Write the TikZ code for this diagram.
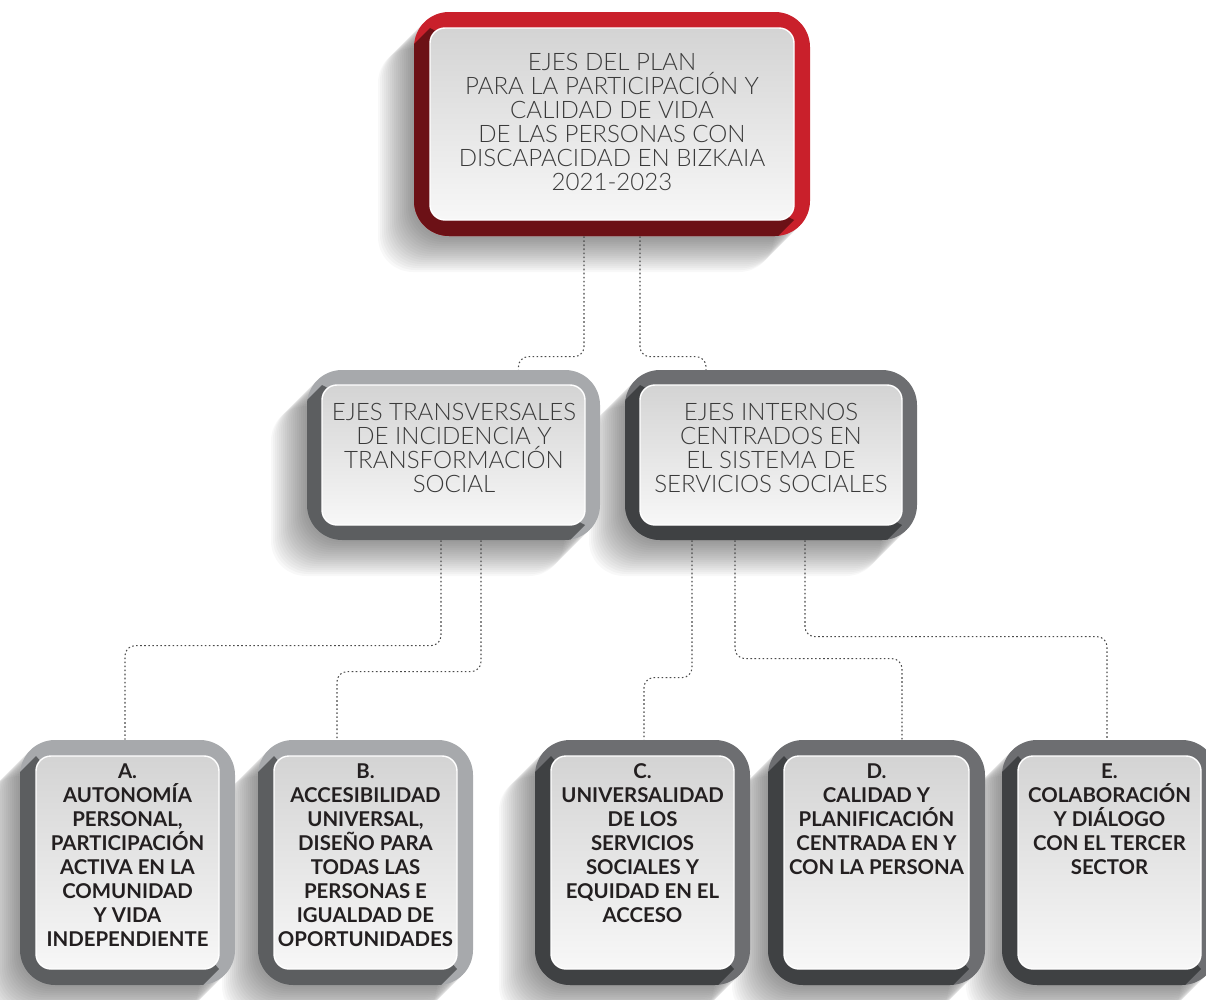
\documentclass[tikz,border=0pt]{standalone}
\usepackage{fontspec}
\setmainfont{Lato}
\newfontfamily\latolight{Lato Light}
\usetikzlibrary{calc,fit}

\definecolor{vermelho}{HTML}{C9202B}
\definecolor{vermelhoesc}{HTML}{6C1116}
\definecolor{cinzaclaro}{HTML}{A7A9AC}
\definecolor{cinzaclaroesc}{HTML}{5C5E60}
\definecolor{cinzaesc}{HTML}{6D6E71}
\definecolor{cinzaescesc}{HTML}{3F4143}
\definecolor{texto}{HTML}{3A3A3A}
\definecolor{textoesc}{HTML}{231F20}
\definecolor{linha}{HTML}{4A4A4A}

% caixa: nome, x1, y1, x2, y2, borda, cor, cor escura
\newcommand{\caixa}[8]{%
  \foreach \k in {1,...,18}
    \fill[black, opacity=0.028, rounded corners=7mm] ({#2-2*\k},{#3+2*\k}) rectangle ({#4-2*\k},{#5+2*\k});
  \fill[#7, rounded corners=7mm] (#2,#3) rectangle (#4,#5);
  \begin{scope}
    \clip[rounded corners=7mm] (#2,#3) rectangle (#4,#5);
    \fill[#8] ({#2+#6},{#3+#6}) -- ++(-300,300) -- ({#4-#6-300},{#5-#6+300}) -- ({#4-#6},{#5-#6}) -- cycle;
  \end{scope}
  \shadedraw[rounded corners=3mm, top color=black!17, bottom color=black!3, draw=white, line width=0.8pt] ({#2+#6},{#3+#6}) rectangle ({#4-#6},{#5-#6});
  \node[fit={(#2,#3) (#4,#5)}, inner sep=0pt] (#1) {};
}

\begin{document}
\begin{tikzpicture}[x=0.2mm, y=-0.2mm,
    link/.style={draw=linha, line width=0.6pt, dash pattern=on 0.9pt off 1.4pt, rounded corners=2mm},
    titulo/.style={align=center, text=texto, font=\latolight\fontsize{13.7}{13.66}\selectfont, inner sep=0pt},
    eixo/.style={align=center, text=textoesc, font=\bfseries\fontsize{11.6}{13.66}\selectfont, inner sep=0pt, anchor=north}]
  \clip (0,0) rectangle (1206,1000);

  % Caixas
  \caixa{plan}{414}{12}{810}{236}{16}{vermelho}{vermelhoesc}
  \caixa{intern}{625}{370}{917}{540}{15}{cinzaesc}{cinzaescesc}
  \caixa{transv}{307}{370}{600}{540}{15}{cinzaclaro}{cinzaclaroesc}
  \caixa{e}{1002}{740}{1217}{985}{16}{cinzaesc}{cinzaescesc}
  \caixa{d}{768}{740}{985}{985}{16}{cinzaesc}{cinzaescesc}
  \caixa{c}{535}{740}{750}{985}{16}{cinzaesc}{cinzaescesc}
  \caixa{b}{258}{740}{473}{985}{16}{cinzaclaro}{cinzaclaroesc}
  \caixa{a}{20}{740}{235}{985}{16}{cinzaclaro}{cinzaclaroesc}

  % Textos
  \node[titulo] (tplan) at (612,122) {EJES DEL PLAN\\PARA LA PARTICIPACIÓN Y\\CALIDAD DE VIDA\\DE LAS PERSONAS CON\\DISCAPACIDAD EN BIZKAIA\\2021-2023};
  \node[titulo] (ttransv) at (454,448) {EJES TRANSVERSALES\\DE INCIDENCIA Y\\TRANSFORMACIÓN\\SOCIAL};
  \node[titulo] (tintern) at (771,448) {EJES INTERNOS\\CENTRADOS EN\\EL SISTEMA DE\\SERVICIOS SOCIALES};
  \node[eixo] (ta) at (127.5,763) {A.\\AUTONOMÍA\\PERSONAL,\\PARTICIPACIÓN\\ACTIVA EN LA\\COMUNIDAD\\Y VIDA\\INDEPENDIENTE};
  \node[eixo] (tb) at (365.5,763) {B.\\ACCESIBILIDAD\\UNIVERSAL,\\DISEÑO PARA\\TODAS LAS\\PERSONAS E\\IGUALDAD DE\\OPORTUNIDADES};
  \node[eixo] (tc) at (642.5,763) {C.\\UNIVERSALIDAD\\DE LOS\\SERVICIOS\\SOCIALES Y\\EQUIDAD EN EL\\ACCESO};
  \node[eixo] (td) at (876.5,763) {D.\\CALIDAD Y\\PLANIFICACIÓN\\CENTRADA EN Y\\CON LA PERSONA};
  \node[eixo] (te) at (1109.5,763) {E.\\COLABORACIÓN\\Y DIÁLOGO\\CON EL TERCER\\SECTOR};

  % Ligações
  \draw[link] ($(plan.south)+(-28,0)$) |- ($(transv.north)+(65,-13)$) -- ($(transv.north)+(65,0)$);
  \draw[link] ($(plan.south)+(28,0)$) |- ($(intern.north)+(-65,-13)$) -- ($(intern.north)+(-65,0)$);
  \draw[link] ($(transv.south)+(-12.5,0)$) |- ($(a.north)+(-2.5,-94)$) -- ($(a.north)+(-2.5,0)$);
  \draw[link] ($(transv.south)+(27.5,0)$) |- ($(b.north)+(-28.5,-68)$) -- ($(b.north)+(-28.5,0)$);
  \draw[link] ($(intern.south)+(-79,0)$) |- ($(c.north)+(1.5,-62)$) -- ($(c.north)+(1.5,0)$);
  \draw[link] ($(intern.south)+(-36,0)$) |- ($(d.north)+(25.5,-81)$) -- ($(d.north)+(25.5,0)$);
  \draw[link] ($(intern.south)+(34,0)$) |- ($(e.north)+(-2.5,-103)$) -- ($(e.north)+(-2.5,0)$);
\end{tikzpicture}
\end{document}
